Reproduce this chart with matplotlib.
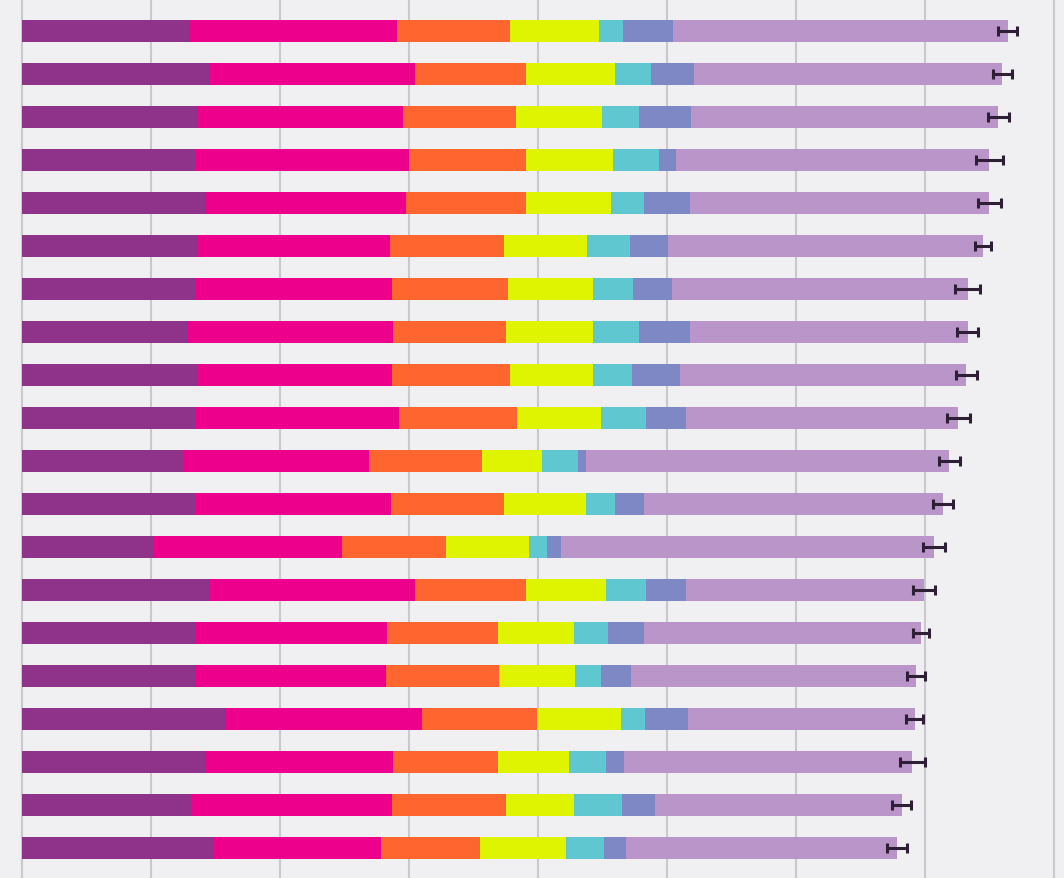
import matplotlib
matplotlib.use("Agg")
import matplotlib.pyplot as plt
import numpy as np

# values (one grid step = 10 units)
purple = [13.0, 14.6, 13.6, 13.4, 14.2, 13.6, 13.4, 12.8, 13.6, 13.4,
          12.5, 13.5, 10.2, 14.5, 13.5, 13.4, 15.8, 14.2, 13.1, 14.8]
pink = [16.1, 15.9, 15.9, 16.6, 15.6, 14.9, 15.3, 16.0, 15.1, 15.8,
        14.4, 15.1, 14.6, 16.0, 14.8, 14.8, 15.2, 14.6, 15.6, 13.0]
orange = [8.7, 8.6, 8.8, 9.1, 9.3, 8.9, 9.0, 8.7, 9.1, 9.2,
          8.8, 8.8, 8.1, 8.6, 8.6, 8.8, 8.9, 8.1, 8.8, 7.7]
yellow = [6.9, 6.9, 6.7, 6.7, 6.6, 6.4, 6.6, 6.8, 6.5, 6.5,
          4.6, 6.3, 6.4, 6.2, 5.9, 5.9, 6.5, 5.5, 5.3, 6.7]
cyan = [1.9, 2.8, 2.8, 3.6, 2.5, 3.3, 3.1, 3.5, 3.0, 3.5,
        2.8, 2.3, 1.4, 3.1, 2.6, 2.0, 1.9, 2.9, 3.7, 2.9]
blue = [3.9, 3.3, 4.1, 1.3, 3.6, 3.0, 3.0, 4.0, 3.7, 3.1,
        0.6, 2.2, 1.1, 3.1, 2.8, 2.3, 3.3, 1.4, 2.6, 1.7]
lavender = [25.9, 23.9, 23.8, 24.3, 23.2, 24.4, 22.9, 21.5, 22.2, 21.1,
            28.2, 23.2, 28.9, 18.4, 21.5, 22.1, 17.6, 22.3, 19.1, 21.0]
err = [0.74, 0.74, 0.78, 1.05, 0.89, 0.62, 1.0, 0.81, 0.81, 0.89,
       0.78, 0.78, 0.85, 0.85, 0.62, 0.7, 0.66, 0.97, 0.74, 0.78]

segments = [purple, pink, orange, yellow, cyan, blue, lavender]
colors = ["#8e3389", "#ec008c", "#ff652f", "#dff400", "#5ec7d0", "#7e88c5", "#b995c9"]

rows = np.arange(len(purple))

fig = plt.figure(figsize=(10.64, 8.79), dpi=100)
fig.patch.set_facecolor("#f0f0f3")
ax = fig.add_axes([0, 0, 1, 1])
ax.set_facecolor("#f0f0f3")

left = np.zeros(len(rows))
for vals, c in zip(segments, colors):
    ax.barh(rows, vals, left=left, height=0.51, color=c, zorder=2)
    left = left + np.array(vals)

ax.errorbar(left, rows, xerr=err, fmt="none", ecolor="#2e1f36",
            elinewidth=2.2, capsize=3.6, capthick=2.2, zorder=3)

ax.set_xticks(np.arange(0, 81, 10))
ax.grid(axis="x", color="#c9c9cd", linewidth=1.5, zorder=0)
ax.set_xlim(-1.705, 80.78)
ax.set_ylim(19.70, -0.744)
ax.tick_params(left=False, bottom=False, labelleft=False, labelbottom=False)
for s in ax.spines.values():
    s.set_visible(False)

fig.savefig("out.png", dpi=100, facecolor=fig.get_facecolor())
